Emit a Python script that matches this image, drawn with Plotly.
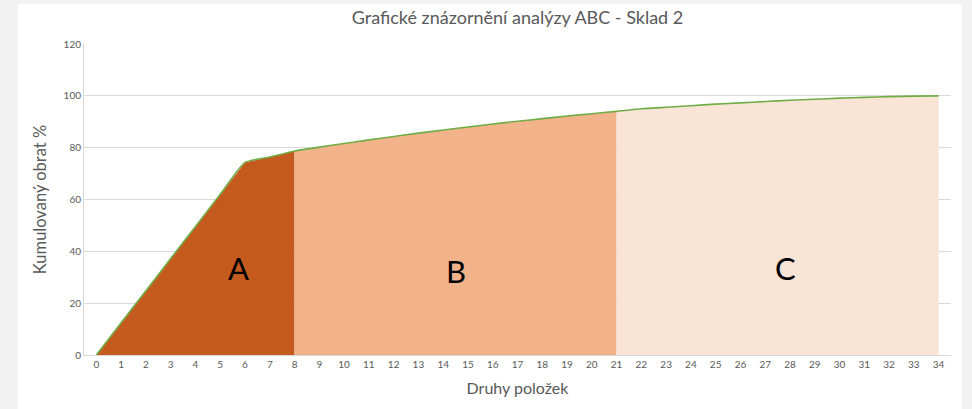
import plotly.graph_objects as go

items = list(range(0, 35))
cumulative = [0, 12.4, 24.8, 37.2, 49.6, 62.0, 74.3, 76.4, 78.7, 80.2,
              81.6, 83.0, 84.3, 85.6, 86.8, 88.0, 89.1, 90.2, 91.2, 92.2,
              93.1, 94.0, 95.0, 95.6, 96.2, 96.8, 97.3, 97.8, 98.3, 98.7,
              99.1, 99.4, 99.7, 99.9, 100]
group_bounds = {"A": (0, 8), "B": (8, 21), "C": (21, 34)}
group_colors = {"A": "#C55A1E", "B": "#F2B28A", "C": "#FAE4D6"}
label_pos = {"A": (5.75, 33.5), "B": (14.5, 32.5), "C": (27.8, 33.5)}
title = "Grafické znázornění analýzy ABC - Sklad 2"
x_title = "Druhy položek"
y_title = "Kumulovaný obrat %"

fig = go.Figure()
for g, (a, b) in group_bounds.items():
    fig.add_trace(go.Scatter(
        x=items[a:b + 1], y=cumulative[a:b + 1], mode="lines",
        line=dict(width=0, color=group_colors[g]), fill="tozeroy",
        fillcolor=group_colors[g], hoverinfo="skip", showlegend=False))

fig.add_trace(go.Scatter(
    x=items, y=cumulative, mode="lines",
    line=dict(color="#70AD47", width=1.6, shape="spline", smoothing=0.5),
    showlegend=False))

for g, (lx, ly) in label_pos.items():
    fig.add_annotation(x=lx, y=ly, text=g, showarrow=False,
                       font=dict(size=31, color="#000000", family="Lato"))

L, R, T, B = 84, 21, 44, 54
W, H = 972, 409
pw, ph = W - L - R, H - T - B
fig.add_shape(type="rect", xref="paper", yref="paper",
              x0=(18 - L) / pw, x1=(962 - L) / pw,
              y0=(H - B - 409) / ph, y1=(H - B - 4) / ph,
              fillcolor="white", line=dict(width=0), layer="below")

fig.update_layout(
    width=W, height=H,
    margin=dict(l=L, r=R, t=T, b=B, autoexpand=False),
    paper_bgcolor="#F2F2F2", plot_bgcolor="white",
    font=dict(family="Lato", color="#595959"),
    title=dict(text=title, x=0.5, xref="paper", xanchor="center",
               y=1 - 18 / H, yanchor="middle",
               font=dict(size=18, color="#595959", family="Lato")),
    xaxis=dict(range=[-0.5, 34.5], tickmode="array", tickvals=items,
               ticktext=[str(i) for i in items], showgrid=False,
               showline=True, linecolor="#D9D9D9", linewidth=1,
               ticks="", tickfont=dict(size=10, color="#595959"),
               title=dict(text=x_title, font=dict(size=16, color="#595959"),
                          standoff=13),
               zeroline=False, fixedrange=True, automargin=False),
    yaxis=dict(range=[0, 120], dtick=20, showgrid=True, gridcolor="#D9D9D9",
               gridwidth=1, showline=True, linecolor="#D9D9D9", ticks="",
               tickfont=dict(size=10, color="#595959"),
               title=dict(text=y_title, font=dict(size=16.5, color="#595959"),
                          standoff=12),
               zeroline=False, fixedrange=True, automargin=False),
)

fig.write_html("out.html", config={"displayModeBar": False},
               post_script="document.body.style.margin='0';"
                           "document.body.style.background='#F2F2F2';")
